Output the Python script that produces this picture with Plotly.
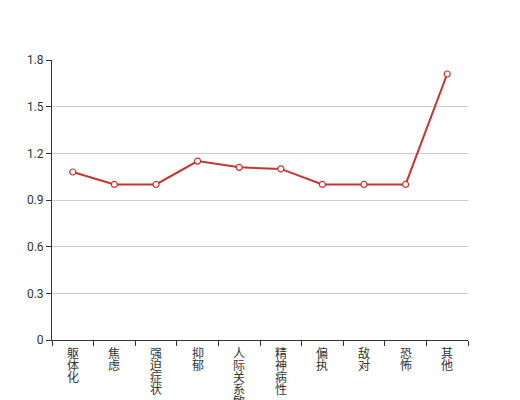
import plotly.graph_objects as go

categories = ["躯体化", "焦虑", "强迫症状", "抑郁", "人际关系敏感", "精神病性", "偏执", "敌对", "恐怖", "其他"]
values = [1.08, 1.0, 1.0, 1.15, 1.11, 1.10, 1.0, 1.0, 1.0, 1.71]
y_ticks = [0, 0.3, 0.6, 0.9, 1.2, 1.5, 1.8]
y_tick_labels = ["0", "0.3", "0.6", "0.9", "1.2", "1.5", "1.8"]

FONT = "Noto Sans CJK SC, Roboto, sans-serif"

fig = go.Figure()
fig.add_trace(go.Scatter(
    x=categories, y=values, mode="lines+markers",
    line=dict(color="#c23531", width=2),
    marker=dict(symbol="circle", size=6, color="#ffffff",
                line=dict(color="#c23531", width=1.2)),
    cliponaxis=False,
))

annotations = []
for cat in categories:
    for i, ch in enumerate(cat):
        annotations.append(dict(
            x=cat, xref="x", y=0, yref="paper", text=ch, showarrow=False,
            yanchor="middle", xanchor="center", yshift=-(12 + 12 * i),
            font=dict(family=FONT, size=12, color="#333333"),
        ))

# page body adds an 8px offset, so the figure is sized 512x392
fig.update_layout(
    width=512, height=392,
    margin=dict(l=44, r=52, t=52, b=60),
    paper_bgcolor="#ffffff", plot_bgcolor="#ffffff",
    showlegend=False,
    font=dict(family=FONT, size=12, color="#333333"),
    annotations=annotations,
    xaxis=dict(
        type="category", range=[-0.5, 9.5], showticklabels=False,
        showline=True, linecolor="#333333", linewidth=1,
        ticks="outside", tickson="boundaries", ticklen=5, tickcolor="#333333",
        showgrid=False, zeroline=False, fixedrange=True,
    ),
    yaxis=dict(
        range=[0, 1.8], tickvals=y_ticks, ticktext=y_tick_labels,
        showline=True, linecolor="#333333", linewidth=1,
        ticks="outside", ticklen=5, tickcolor="#333333",
        showgrid=True, gridcolor="#cccccc", gridwidth=1,
        zeroline=False, tickfont=dict(family="Roboto, sans-serif", size=12, color="#333333"),
        fixedrange=True,
    ),
)

fig.write_html("out.html")
